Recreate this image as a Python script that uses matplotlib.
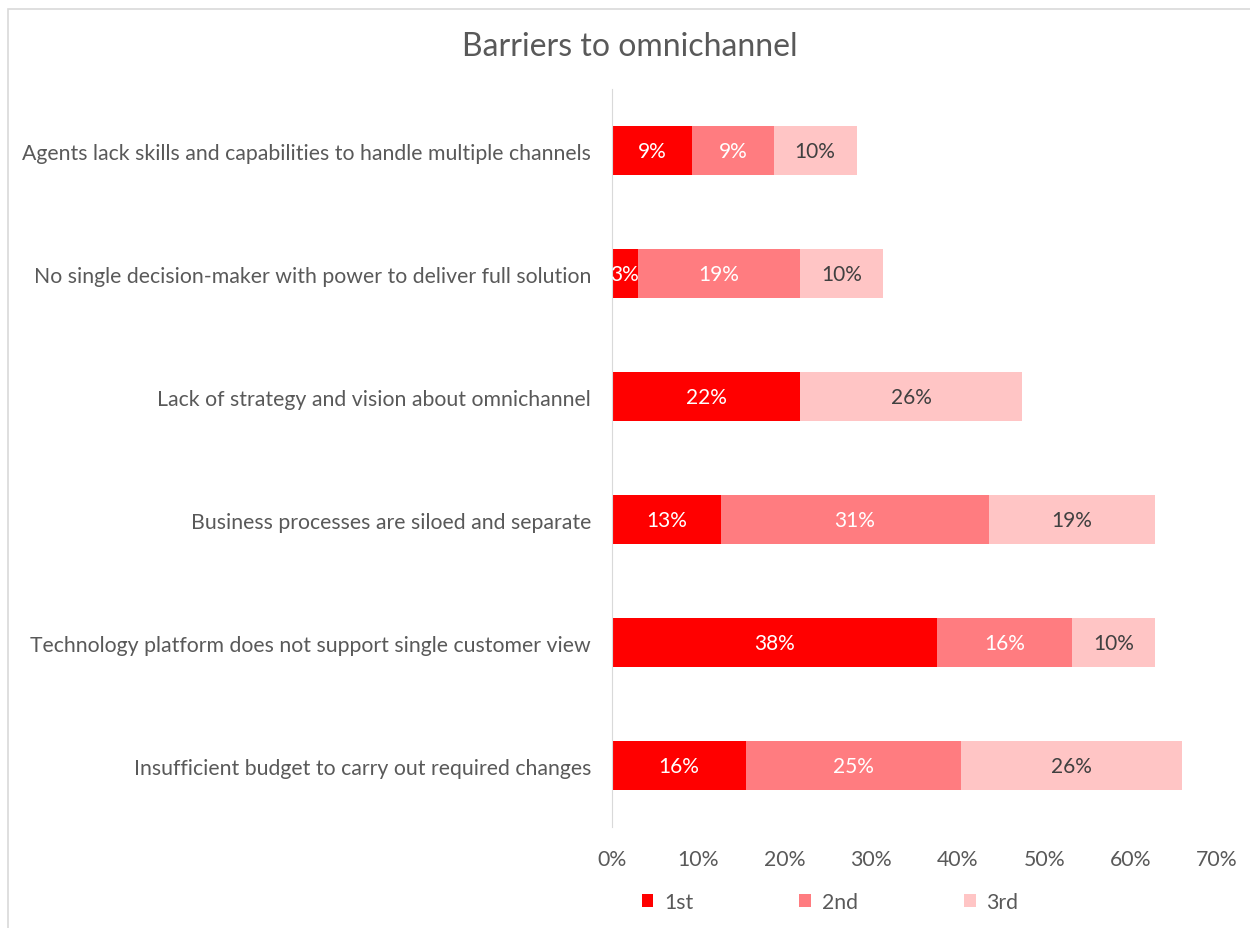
import matplotlib.pyplot as plt
from matplotlib.patches import Rectangle
from matplotlib.ticker import PercentFormatter
import numpy as np

plt.rcParams['font.family'] = ['Lato', 'DejaVu Sans']

# Data (in %)
categories = [
    "Agents lack skills and capabilities to handle multiple channels",
    "No single decision-maker with power to deliver full solution",
    "Lack of strategy and vision about omnichannel",
    "Business processes are siloed and separate",
    "Technology platform does not support single customer view",
    "Insufficient budget to carry out required changes",
]
first = [9.3, 3.0, 21.8, 12.6, 37.6, 15.5]
second = [9.4, 18.8, 0.0, 31.0, 15.6, 24.9]
third = [9.6, 9.6, 25.6, 19.2, 9.6, 25.6]
series_names = ["1st", "2nd", "3rd"]
colors = ["#FF0000", "#FF7C80", "#FFC5C5"]
label_colors = ["white", "white", "#404040"]
text_color = "#595959"

fig = plt.figure(figsize=(12.5, 9.29), dpi=100)
ax = fig.add_axes([0.4896, 0.1087, 0.9736 - 0.4896, 0.9031 - 0.1087])

# chart frame
fig.patches.append(Rectangle((8 / 1250, -0.01), 1.02, 1 - 10 / 929 + 0.01,
                             transform=fig.transFigure, fill=False,
                             edgecolor="#D9D9D9", linewidth=1.2))

y = np.arange(len(categories))
left = np.zeros(len(categories))
for vals, name, col, lcol in zip([first, second, third], series_names, colors, label_colors):
    vals = np.array(vals)
    bars = ax.barh(y, vals, left=left, height=0.4, color=col, label=name)
    for b, v in zip(bars, vals):
        if v > 0:
            ax.text(b.get_x() + b.get_width() / 2, b.get_y() + b.get_height() / 2,
                    f"{v:.0f}%", ha="center", va="center", color=lcol, fontsize=15)
    left += vals

ax.set_xlim(0, 70)
ax.set_ylim(len(categories) - 0.5, -0.5)
ax.set_yticks(y)
ax.set_yticklabels(categories, fontsize=15.3, color=text_color)
ax.set_xticks(np.arange(0, 71, 10))
ax.xaxis.set_major_formatter(PercentFormatter(decimals=0))
ax.tick_params(axis="x", labelsize=15.3, labelcolor=text_color, length=0, pad=16)
ax.tick_params(axis="y", length=0, pad=15)
for s in ["top", "right", "bottom"]:
    ax.spines[s].set_visible(False)
ax.spines["left"].set_color("#D9D9D9")

fig.text(630 / 1250, 1 - 47 / 929, "Barriers to omnichannel", ha="center", va="center",
         fontsize=23, color=text_color)

leg = fig.legend(loc="center", bbox_to_anchor=(830 / 1250, 1 - 903 / 929), ncol=3,
                 frameon=False, fontsize=15.3, handlelength=0.55, handleheight=0.55,
                 columnspacing=5.0, handletextpad=0.5)
for t in leg.get_texts():
    t.set_color(text_color)

fig.savefig("out.png", dpi=100)
